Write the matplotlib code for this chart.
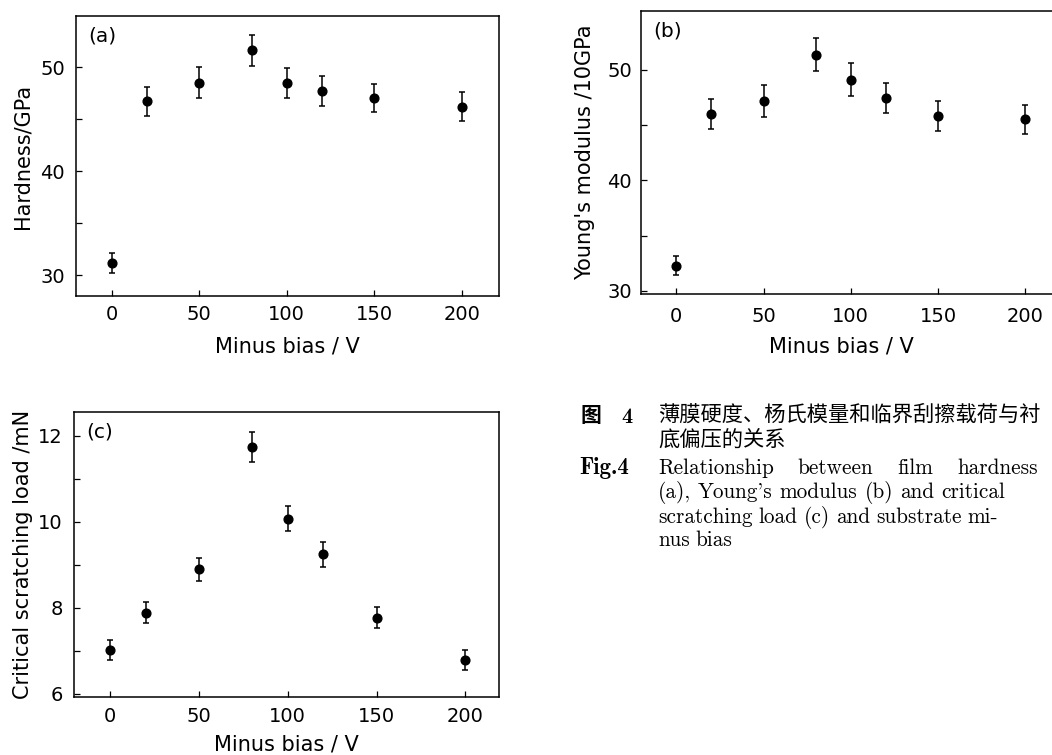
import numpy as np
import matplotlib
matplotlib.use('Agg')
import matplotlib.pyplot as plt
from matplotlib.ticker import FixedLocator

plt.rcParams['font.family'] = ['DejaVu Sans']

# data
bias = [0, 20, 50, 80, 100, 120, 150, 200]
hardness = [31.2, 46.7, 48.5, 51.6, 48.5, 47.7, 47.0, 46.2]
hardness_err = [0.95, 1.4, 1.5, 1.5, 1.45, 1.4, 1.35, 1.4]
modulus = [32.3, 46.0, 47.2, 51.35, 49.1, 47.4, 45.85, 45.5]
modulus_err = [0.9, 1.37, 1.45, 1.5, 1.5, 1.35, 1.35, 1.3]
load = [7.02, 7.89, 8.90, 11.74, 10.07, 9.24, 7.77, 6.78]
load_err = [0.23, 0.25, 0.27, 0.35, 0.29, 0.29, 0.25, 0.23]

xticks = [0, 50, 100, 150, 200]
xlabel = 'Minus bias / V'

W, H = 1052, 755
fig = plt.figure(figsize=(W / 100, H / 100), dpi=100)


def px_axes(l, t, r, b):
    return fig.add_axes([l / W, 1 - b / H, (r - l) / W, (b - t) / H])


def style(ax, yticks, yminor, ylabel, tag, ypad, xpad, ylab_x, xlab_y, xlab_x=0.5):
    for s in ax.spines.values():
        s.set_linewidth(1.1)
    ax.set_xticks(xticks)
    ax.set_yticks(yticks)
    ax.yaxis.set_minor_locator(FixedLocator(yminor))
    ax.tick_params(which='both', direction='in', length=4.5, width=0.9,
                   labelsize=14, top=False, right=False)
    ax.tick_params(axis='y', pad=ypad)
    ax.tick_params(axis='x', pad=xpad)
    ax.set_ylabel(ylabel, fontsize=15)
    ax.set_xlabel(xlabel, fontsize=15)
    ax.yaxis.set_label_coords(ylab_x, 0.5)
    ax.xaxis.set_label_coords(xlab_x, xlab_y)
    ax.text(0.03, 0.93, tag, transform=ax.transAxes, fontsize=14.5,
            ha='left', va='center')


def points(ax, y, yerr):
    ax.errorbar(bias, y, yerr=yerr, fmt='o', color='black', markersize=6.3,
                elinewidth=1.1, capsize=2.3, capthick=1.1)


# (a) hardness
ax_a = px_axes(76, 16, 499, 296)
points(ax_a, hardness, hardness_err)
ax_a.set_xlim(-20.4, 221.3)
ax_a.set_ylim(28.0, 54.9)
style(ax_a, [30, 40, 50], [35, 45], 'Hardness/GPa', '(a)', 8, 6.5, -0.104, -0.145)

# (b) Young's modulus, right side runs past the page edge
ax_b = px_axes(641, 11, 1062, 294.3)
points(ax_b, modulus, modulus_err)
ax_b.set_xlim(-20.2, 221)
ax_b.set_ylim(29.7, 55.3)
style(ax_b, [30, 40, 50], [35, 45], "Young's modulus /10GPa", '(b)', 6.5, 9, -0.109, -0.15, 0.475)

# (c) critical scratching load
ax_c = px_axes(74, 411.7, 499, 697.3)
points(ax_c, load, load_err)
ax_c.set_xlim(-20.3, 218.9)
ax_c.set_ylim(5.92, 12.56)
style(ax_c, [6, 8, 10, 12], [7, 9, 11], 'Critical scratching load /mN', '(c)', 8, 6.8, -0.096, -0.13)

# caption
cjk = ['Noto Sans CJK SC', 'DejaVu Sans']


def fx(x):
    return x / W


def fy(y):
    return 1 - y / H


fig.text(fx(580), fy(415), '图', family=cjk, fontsize=15, fontweight='bold', va='center')
fig.text(fx(621), fy(423), '4', family='cmb10', fontsize=16, va='baseline')
fig.text(fx(658), fy(415), '薄膜硬度、杨氏模量和临界刮擦载荷与衬', family=cjk, fontsize=15.3, va='center')
fig.text(fx(658), fy(440), '底偏压的关系', family=cjk, fontsize=15.3, va='center')
fig.text(fx(579), fy(474), 'Fig.4', family='cmb10', fontsize=16.5, va='baseline')

# justified English lines: (baseline y, gap between words in px, words)
caption_lines = [
    (474, 24, ['Relationship', 'between', 'film', 'hardness']),
    (498.3, 7, ['(a),', "Young's", 'modulus', '(b)', 'and', 'critical']),
    (522.7, 6, ['scratching', 'load', '(c)', 'and', 'substrate', 'mi-']),
    (546, 6, ['nus', 'bias']),
]
renderer = fig.canvas.get_renderer()
for yb, gap, words in caption_lines:
    x = 658
    for w in words:
        t = fig.text(fx(x), fy(yb), w, family='cmr10', fontsize=15.3, va='baseline')
        x += t.get_window_extent(renderer).width + gap

fig.savefig('out.png', dpi=100)
